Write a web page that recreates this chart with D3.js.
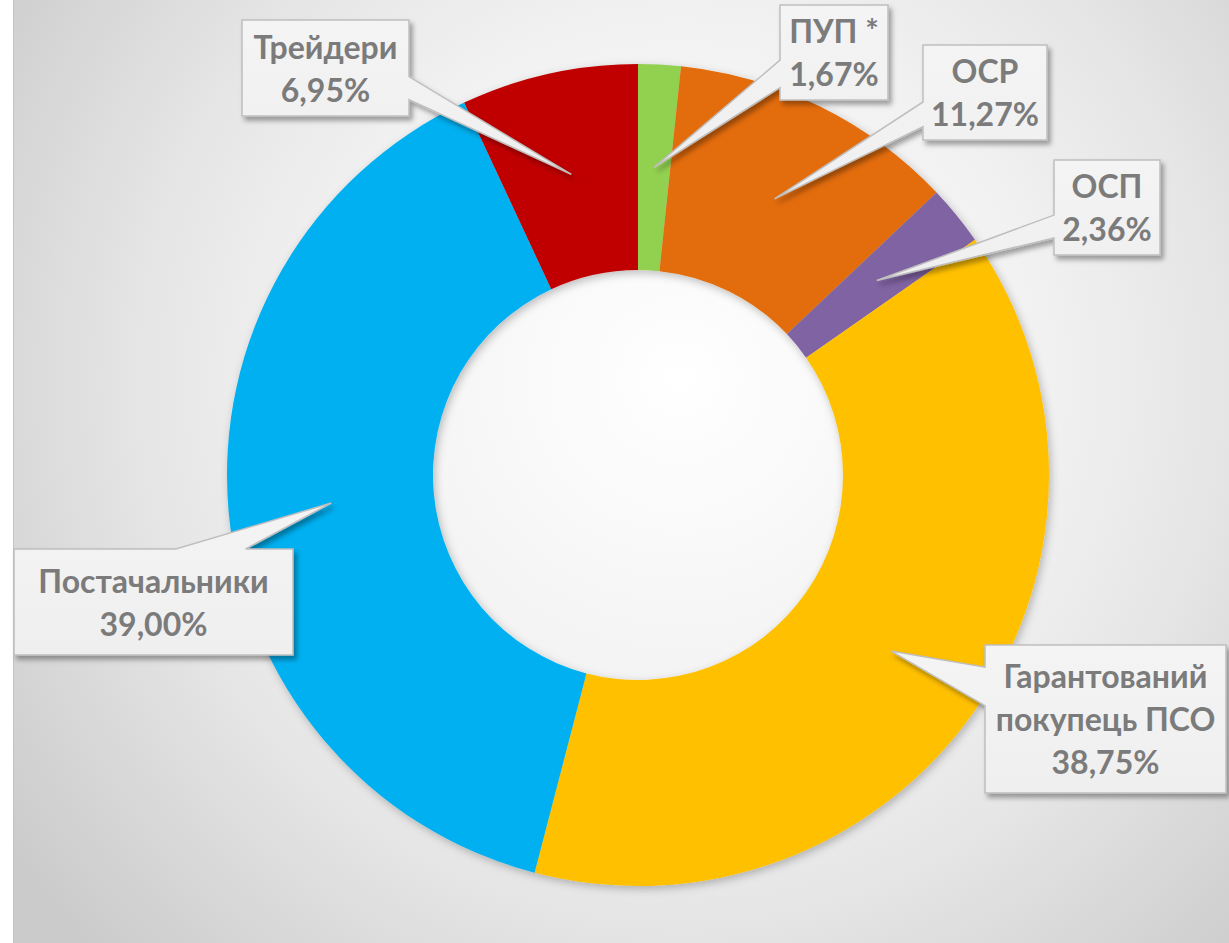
<!DOCTYPE html>
<html>
<head>
<meta charset="utf-8">
<script src="https://cdn.jsdelivr.net/npm/d3@7"></script>
<style>
  html, body { margin: 0; padding: 0; background: #fff; }
  svg { display: block; }
</style>
</head>
<body>
<div id="chart"></div>
<script>
var width = 1229, height = 943;

// data
var categories = ["ПУП *", "ОСР", "ОСП", "Гарантований\nпокупець ПСО", "Постачальники", "Трейдери"];
var values = [1.67, 11.27, 2.36, 38.75, 39.00, 6.95];
var colors = ["#92d050", "#e36c0a", "#8064a2", "#ffc000", "#00b0f0", "#c00000"];

// label boxes: [x, y, w, h], side of the wedge, and where the wedge base sits on that side
var boxes = [
    {box: [780, 5, 108, 95],    side: "left",  base: [0.58, 0.87]},
    {box: [923, 45, 124, 95],   side: "left",  base: [0.60, 0.86]},
    {box: [1054, 160, 106, 95], side: "left",  base: [0.58, 0.82]},
    {box: [985, 645, 241, 148], side: "left",  base: [0.15, 0.41]},
    {box: [14, 549, 279, 106],  side: "top",   base: [0.58, 0.83]},
    {box: [242, 20, 167, 96],   side: "right", base: [0.59, 0.83]}
];

var cx = 638, cy = 475,
    outerRadius = 411,
    innerRadius = 205,
    lineH = 43;

var fmt = function(v) { return d3.format(".2f")(v).replace(".", ",") + "%"; };

var svg = d3.select("#chart").append("svg")
    .attr("width", width)
    .attr("height", height);

var defs = svg.append("defs");

var bg = defs.append("radialGradient")
    .attr("id", "bg")
    .attr("gradientUnits", "userSpaceOnUse")
    .attr("cx", 680).attr("cy", 380).attr("r", 820);
bg.append("stop").attr("offset", 0).attr("stop-color", "#ffffff");
bg.append("stop").attr("offset", 0.45).attr("stop-color", "#f1f1f1");
bg.append("stop").attr("offset", 0.65).attr("stop-color", "#e6e6e6");
bg.append("stop").attr("offset", 1).attr("stop-color", "#cbcbcb");

var boxFill = defs.append("linearGradient")
    .attr("id", "boxfill")
    .attr("x1", 0).attr("y1", 0).attr("x2", 0).attr("y2", 1);
boxFill.append("stop").attr("offset", 0).attr("stop-color", "#f4f4f4");
boxFill.append("stop").attr("offset", 1).attr("stop-color", "#efefef");

var ringShadow = defs.append("filter").attr("id", "ringShadow")
    .attr("x", "-10%").attr("y", "-10%").attr("width", "120%").attr("height", "120%");
ringShadow.append("feDropShadow")
    .attr("dx", 2).attr("dy", 3).attr("stdDeviation", 4)
    .attr("flood-color", "#000").attr("flood-opacity", 0.25);

var boxShadow = defs.append("filter").attr("id", "boxShadow")
    .attr("x", "-20%").attr("y", "-20%").attr("width", "140%").attr("height", "140%");
boxShadow.append("feDropShadow")
    .attr("dx", 3).attr("dy", 4).attr("stdDeviation", 2.5)
    .attr("flood-color", "#000").attr("flood-opacity", 0.35);

// background panel
svg.append("rect")
    .attr("x", 13).attr("y", 0)
    .attr("width", width - 13).attr("height", height)
    .style("fill", "url(#bg)");
svg.append("line")
    .attr("x1", 13.5).attr("x2", 13.5)
    .attr("y1", 0).attr("y2", height)
    .style("stroke", "#c4c4c4")
    .style("stroke-width", 1);

var pie = d3.pie()
    .sort(null)
    .value(function(d) { return d; });

var arc = d3.arc()
    .innerRadius(innerRadius)
    .outerRadius(outerRadius);

var arcs = pie(values);

var g = svg.append("g")
    .attr("transform", "translate(" + cx + "," + cy + ")");

g.append("g")
    .attr("filter", "url(#ringShadow)")
    .selectAll("path")
    .data(arcs)
    .enter().append("path")
    .attr("d", arc)
    .style("fill", function(d, i) { return colors[i]; });

// callout shape: box with a wedge pointing at the slice centroid
function callout(b, tip) {
    var x0 = b.box[0], y0 = b.box[1], x1 = x0 + b.box[2], y1 = y0 + b.box[3];
    var p = d3.path();
    p.moveTo(x0, y0);
    if (b.side == "top") {
        var xa = x0 + b.box[2] * b.base[0], xb = x0 + b.box[2] * b.base[1];
        p.lineTo(xa, y0); p.lineTo(tip[0], tip[1]); p.lineTo(xb, y0);
    }
    p.lineTo(x1, y0);
    if (b.side == "right") {
        var ya = y0 + b.box[3] * b.base[0], yb = y0 + b.box[3] * b.base[1];
        p.lineTo(x1, ya); p.lineTo(tip[0], tip[1]); p.lineTo(x1, yb);
    }
    p.lineTo(x1, y1);
    p.lineTo(x0, y1);
    if (b.side == "left") {
        var yA = y0 + b.box[3] * b.base[0], yB = y0 + b.box[3] * b.base[1];
        p.lineTo(x0, yB); p.lineTo(tip[0], tip[1]); p.lineTo(x0, yA);
    }
    p.closePath();
    return p.toString();
}

var labels = svg.append("g")
    .selectAll("g.label")
    .data(arcs)
    .enter().append("g")
    .attr("class", "label");

labels.append("path")
    .attr("d", function(d, i) {
        var c = arc.centroid(d);
        return callout(boxes[i], [c[0] + cx, c[1] + cy]);
    })
    .attr("filter", "url(#boxShadow)")
    .style("fill", "url(#boxfill)")
    .style("stroke", "#bfbfbf")
    .style("stroke-width", 1.5)
    .style("stroke-linejoin", "miter");

labels.append("text")
    .attr("text-anchor", "middle")
    .style("font-family", "Lato, 'Open Sans', sans-serif")
    .style("font-weight", "bold")
    .style("font-size", "32px")
    .style("fill", "#7b7b7b")
    .each(function(d, i) {
        var b = boxes[i].box;
        var lines = categories[i].split("\n").concat([fmt(values[i])]);
        var mx = b[0] + b[2] / 2,
            first = b[1] + b[3] / 2 - (lines.length - 1) * lineH / 2 + 12;
        d3.select(this).selectAll("tspan")
            .data(lines)
            .enter().append("tspan")
            .attr("x", mx)
            .attr("y", function(l, j) { return first + j * lineH; })
            .text(function(l) { return l; });
    });
</script>
</body>
</html>
